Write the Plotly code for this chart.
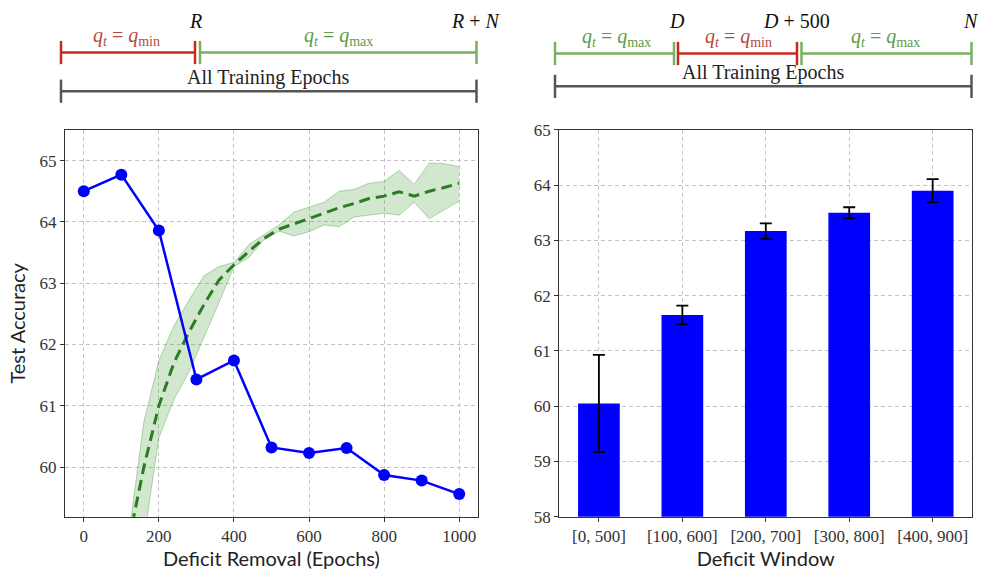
import plotly.graph_objects as go

W, H = 981, 579

# ---- Left panel data ----
removal_epochs = [0, 100, 200, 300, 400, 500, 600, 700, 800, 900, 1000]
removal_acc = [64.50, 64.77, 63.86, 61.43, 61.74, 60.32, 60.23, 60.31, 59.87, 59.78, 59.56]

ref_epochs = [120, 160, 200, 240, 280, 320, 360, 400, 440, 480, 520, 560, 600,
              640, 680, 720, 760, 800, 840, 880, 920, 960, 1000]
ref_mean = [58.8, 60.0, 61.0, 61.7, 62.2, 62.65, 63.05, 63.3, 63.52, 63.73, 63.88, 63.97,
            64.05, 64.14, 64.23, 64.3, 64.38, 64.42, 64.49, 64.42, 64.5, 64.56, 64.63]
ref_upper = [58.9, 60.74, 61.74, 62.3, 62.72, 63.12, 63.27, 63.34, 63.63, 63.79, 63.95, 64.16,
             64.24, 64.32, 64.5, 64.53, 64.63, 64.66, 64.84, 64.61, 64.96, 64.95, 64.9]
ref_lower = [57.5, 58.82, 60.48, 61.1, 61.55, 62.1, 62.68, 63.27, 63.42, 63.71, 63.85, 63.77,
             63.84, 63.95, 63.92, 64.08, 64.11, 64.14, 64.11, 64.32, 64.05, 64.19, 64.34]

# ---- Right panel data ----
windows = ["[0, 500]", "[100, 600]", "[200, 700]", "[300, 800]", "[400, 900]"]
window_acc = [60.05, 61.65, 63.17, 63.50, 63.90]
window_err = [0.88, 0.17, 0.14, 0.10, 0.21]

BLUE = "#0000ff"
SERIF = "Liberation Serif, DejaVu Serif, serif"
SANS = "Lato, DejaVu Sans, sans-serif"

fig = go.Figure()

# band
fig.add_trace(go.Scatter(x=ref_epochs, y=ref_upper, mode="lines",
                         line=dict(color="rgba(60,150,50,0.35)", width=1),
                         showlegend=False, hoverinfo="skip", xaxis="x", yaxis="y"))
fig.add_trace(go.Scatter(x=ref_epochs, y=ref_lower, mode="lines", fill="tonexty",
                         fillcolor="rgba(70,160,60,0.25)",
                         line=dict(color="rgba(60,150,50,0.35)", width=1),
                         showlegend=False, hoverinfo="skip", xaxis="x", yaxis="y"))
fig.add_trace(go.Scatter(x=ref_epochs, y=ref_mean, mode="lines",
                         line=dict(color="#2a7d22", width=3, dash="11px,6px"),
                         showlegend=False, xaxis="x", yaxis="y"))
fig.add_trace(go.Scatter(x=removal_epochs, y=removal_acc, mode="lines+markers",
                         line=dict(color=BLUE, width=2.5),
                         marker=dict(color=BLUE, size=12),
                         showlegend=False, xaxis="x", yaxis="y"))

fig.add_trace(go.Bar(x=list(range(len(windows))), y=window_acc, width=0.5,
                     marker=dict(color=BLUE, line=dict(width=0)),
                     error_y=dict(type="data", array=window_err, color="black",
                                  thickness=1.8, width=6),
                     showlegend=False, xaxis="x2", yaxis="y2"))

ydom = [(H - 525) / H, (H - 125) / H]
axis_common = dict(showline=True, linecolor="#333333", linewidth=1.3, mirror=True,
                   showgrid=True, gridcolor="#c4c4c4", griddash="4px,3px", gridwidth=1,
                   zeroline=False, tickfont=dict(family=SERIF, size=17, color="#333333"),
                   ticks="outside", ticklen=4, tickcolor="#333333",
                   title_font=dict(family=SANS, size=20, color="#222222"))

fig.update_layout(
    width=W, height=H, margin=dict(l=0, r=0, t=0, b=0),
    plot_bgcolor="white", paper_bgcolor="white",
    xaxis=dict(domain=[65 / W, 478 / W], range=[-50, 1050], anchor="y",
               tickvals=[0, 200, 400, 600, 800, 1000],
               title=dict(text="Deficit Removal (Epochs)", standoff=6), **axis_common),
    yaxis=dict(domain=ydom, range=[59.19, 65.5], anchor="x",
               tickvals=[60, 61, 62, 63, 64, 65],
               title=dict(text="Test Accuracy", standoff=8), **axis_common),
    xaxis2=dict(domain=[559.3 / W, 972.3 / W], range=[-0.475, 4.475], anchor="y2",
                tickvals=list(range(len(windows))), ticktext=windows,
                title=dict(text="Deficit Window", standoff=4), **axis_common),
    yaxis2=dict(domain=ydom, range=[58, 65], anchor="x2",
                tickvals=[58, 59, 60, 61, 62, 63, 64, 65], **axis_common),
)

# ---- schematic above panels (pixel coords -> paper) ----
RED_L = "#c8281e"
RED_T = "#b54a3c"
GRN_L = "#7ab060"
GRN_T = "#5e9a48"
GRAY = "#555555"

def px(x):
    return x / W

def py(y):
    return 1 - y / H

def seg(x0, x1, y, color, half=12, width=2.5):
    fig.add_shape(type="line", xref="paper", yref="paper", x0=px(x0), x1=px(x1),
                  y0=py(y), y1=py(y), line=dict(color=color, width=width))
    for xx in (x0, x1):
        fig.add_shape(type="line", xref="paper", yref="paper", x0=px(xx), x1=px(xx),
                      y0=py(y - half), y1=py(y + half), line=dict(color=color, width=width))

def label(x, y, text, color, size=20):
    fig.add_annotation(xref="paper", yref="paper", x=px(x), y=py(y), text=text,
                       showarrow=False, xanchor="center", yanchor="middle",
                       font=dict(family=SERIF, size=size, color=color))

QMIN = "<i>q</i><sub><i>t</i></sub> = <i>q</i><sub>min</sub>"
QMAX = "<i>q</i><sub><i>t</i></sub> = <i>q</i><sub>max</sub>"

# left schematic
seg(61, 195, 45, RED_L)
seg(200, 476.5, 45, GRN_L)
seg(61, 476.5, 85, GRAY)
label(126, 28, QMIN, RED_T)
label(338, 28, QMAX, GRN_T)
label(195.5, 12, "<i>R</i>", "#111111")
label(476, 12, "<i>R</i> + <i>N</i>", "#111111")
label(268, 71, "All Training Epochs", "#222222")

# right schematic
seg(555, 674, 46, GRN_L)
seg(678, 797, 46, RED_L)
seg(801.5, 971.5, 46, GRN_L)
seg(555, 971.5, 80, GRAY)
label(616.5, 29, QMAX, GRN_T)
label(738, 29, QMIN, RED_T)
label(885, 29, QMAX, GRN_T)
label(677, 12, "<i>D</i>", "#111111")
label(796.5, 12, "<i>D</i> + 500", "#111111")
label(971, 12, "<i>N</i>", "#111111")
label(763, 66, "All Training Epochs", "#222222")

fig.write_html("out.html")
